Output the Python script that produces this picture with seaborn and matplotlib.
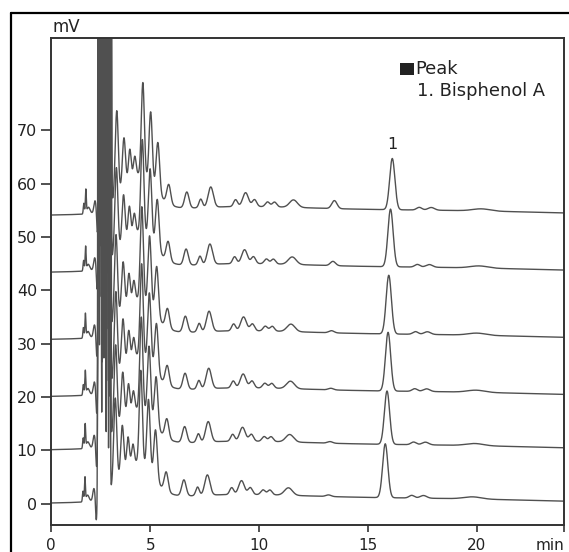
import numpy as np
import pandas as pd
import matplotlib
matplotlib.use("Agg")
import matplotlib.pyplot as plt
import seaborn as sns
from matplotlib.patches import Rectangle
from matplotlib.lines import Line2D

# Six replicate chromatograms, stacked bottom to top (baseline offset in mV)
run_offsets = [0.0, 10.0, 20.0, 30.7, 43.3, 54.0]
# retention-time scale of each run relative to the top run
run_time_scale = [0.980, 0.985, 0.988, 0.990, 0.995, 1.000]

# Bisphenol A peak (peak 1)
bpa_time = 16.11
bpa_heights = [10.1, 10.0, 11.0, 11.0, 10.8, 9.6]
bpa_sigma = 0.12

# small peak near 13.5 min that differs between runs
late_peak_time = 13.45
late_peak_heights = [0.3, 0.3, 0.3, 0.4, 0.8, 1.5]

# common peak table: retention time (min), height (mV), sigma (min)
peak_times = [1.94, 2.03, 2.15, 2.45, 2.56,
              2.66, 2.76, 2.87, 2.97, 3.08, 3.19,
              3.45, 3.78, 4.05, 4.28, 4.65, 5.01, 5.34, 4.40,
              5.84, 6.67, 7.31, 7.77, 8.91, 9.37, 9.78, 10.38, 10.70, 11.57,
              8.50, 17.0,
              17.35, 17.90, 20.20]
peak_heights = [2.0, 4.4, 1.2, 2.2, -4.0,
                260, 320, 280, 240, 200, 120,
                16.0, 9.0, 5.5, 3.5, 17.5, 13.5, 9.5, 7.0,
                3.6, 3.0, 1.6, 3.8, 1.3, 2.6, 1.3, 0.9, 0.9, 1.4,
                1.3, 1.0,
                0.5, 0.5, 0.4]
peak_sigmas = [0.025, 0.022, 0.07, 0.05, 0.03,
               0.02, 0.02, 0.02, 0.02, 0.02, 0.02,
               0.07, 0.07, 0.06, 0.06, 0.07, 0.075, 0.08, 0.75,
               0.09, 0.10, 0.08, 0.12, 0.09, 0.13, 0.10, 0.10, 0.10, 0.18,
               3.5, 6.0,
               0.12, 0.15, 0.4]

x_ticks = [5, 10, 15, 20, 24]
x_tick_labels = ["5", "10", "15", "20", "min"]
y_ticks = [0, 10, 20, 30, 40, 50, 60, 70]
t_start, t_end = 0.43, 24.0

time = np.arange(t_start, t_end + 1e-9, 0.002)


def gauss(t, center, height, sigma):
    return height * np.exp(-0.5 * ((t - center) / sigma) ** 2)


frames = []
for run, (offset, scale) in enumerate(zip(run_offsets, run_time_scale)):
    signal = np.full_like(time, offset)
    for c, h, s in zip(peak_times, peak_heights, peak_sigmas):
        signal += gauss(time, c * scale, h, s)
    signal += gauss(time, bpa_time * scale, bpa_heights[run], bpa_sigma)
    signal += gauss(time, late_peak_time * scale, late_peak_heights[run], 0.12)
    frames.append(pd.DataFrame({"time": time, "signal": signal, "run": run}))
df = pd.concat(frames, ignore_index=True)

sns.set_style("ticks")
plt.rcParams["font.family"] = ["DejaVu Sans"]

W, H = 569, 552
fig = plt.figure(figsize=(W / 100, H / 100), dpi=100)
fig.patch.set_facecolor("white")
ax = fig.add_axes([51 / W, 27 / H, 513 / W, 487 / H])

sns.lineplot(data=df, x="time", y="signal", units="run", estimator=None,
             color="#505050", linewidth=1.0, ax=ax, legend=False)

ax.set_xlim(t_start, t_end)
ax.set_ylim(-4.0, 87.3)
ax.set_xticks([t_start] + x_ticks)
ax.set_xticklabels(["0"] + x_tick_labels)
ax.set_yticks(y_ticks)
ax.set_xlabel("")
ax.set_ylabel("")
for sp in ax.spines.values():
    sp.set_visible(True)
    sp.set_color("#333333")
    sp.set_linewidth(1.4)
ax.tick_params(axis="x", direction="out", length=5, width=1.2, color="#333333",
               labelsize=11, pad=4, labelcolor="#222222")
ax.tick_params(axis="y", direction="out", length=7, width=1.2, color="#333333",
               labelsize=11.5, pad=3, labelcolor="#222222")
ax.get_xticklabels()[-1].set_ha("right")

# peak number above the top run's Bisphenol A peak
top = df[df["run"] == len(run_offsets) - 1]
near = top[(top["time"] > bpa_time - 0.3) & (top["time"] < bpa_time + 0.3)]
apex = near.loc[near["signal"].idxmax()]
ax.text(apex["time"], apex["signal"] + 1.2, "1", ha="center", va="bottom",
        fontsize=11.5, color="#222222")

# peak legend
ax.add_patch(Rectangle((0.680, 0.924), 0.028, 0.025, transform=ax.transAxes,
                       facecolor="#222222", edgecolor="none"))
ax.text(0.711, 0.937, "Peak", transform=ax.transAxes, ha="left", va="center",
        fontsize=12.9, color="#222222")
ax.text(0.713, 0.892, "1. Bisphenol A", transform=ax.transAxes, ha="left",
        va="center", fontsize=12.9, color="#222222")

# unit of the signal axis
fig.text(53 / W, 1 - 27 / H, "mV", ha="left", va="center", fontsize=12,
         color="#222222")

# frame around the figure
fig.add_artist(Line2D([10.5 / W, 10.5 / W], [0, 1 - 13 / H],
                      transform=fig.transFigure, color="black", linewidth=1.6))
fig.add_artist(Line2D([10.5 / W, 1], [1 - 13 / H, 1 - 13 / H],
                      transform=fig.transFigure, color="black", linewidth=1.6))

fig.savefig("out.png", dpi=100, facecolor="white")
